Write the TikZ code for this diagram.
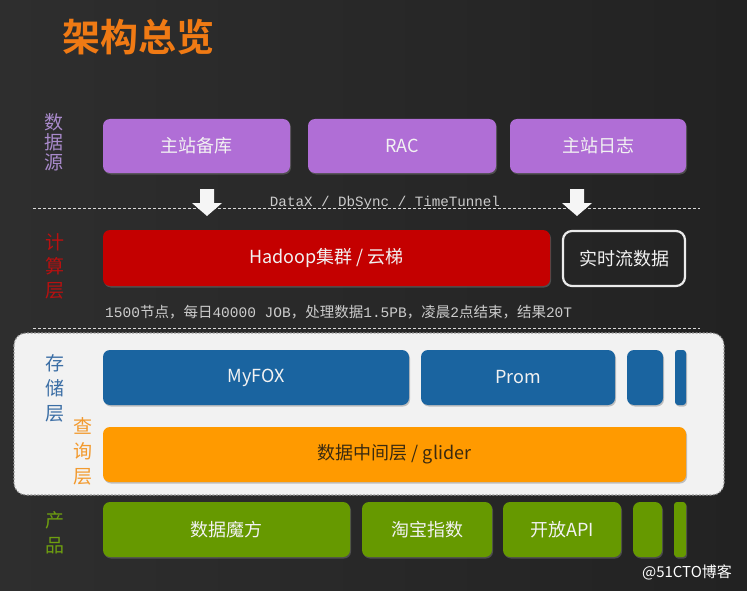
\documentclass[tikz,border=0pt]{standalone}
\usepackage{fontspec}
\setmainfont{Noto Sans CJK SC}
\newfontfamily\cjkbold{Noto Sans CJK SC Bold}
\newfontfamily\monofont{Liberation Mono}
\usetikzlibrary{shadows}
\definecolor{bgl}{HTML}{2E2E2E}
\definecolor{bgm}{HTML}{424242}
\definecolor{bgr}{HTML}{222222}
\definecolor{titleor}{HTML}{F07A14}
\definecolor{purp}{HTML}{B06ED6}
\definecolor{purplab}{HTML}{A98ACB}
\definecolor{redbox}{HTML}{C40000}
\definecolor{redlab}{HTML}{B81010}
\definecolor{bluebox}{HTML}{1A64A0}
\definecolor{bluelab}{HTML}{3B6EA5}
\definecolor{orbox}{HTML}{FF9A00}
\definecolor{orlab}{HTML}{F29A2E}
\definecolor{ortext}{HTML}{3A2A10}
\definecolor{grbox}{HTML}{669900}
\definecolor{grlab}{HTML}{6E9E10}
\definecolor{panel}{HTML}{F2F2F2}
\definecolor{boxtext}{HTML}{F2F2F2}
\begin{document}
\begin{tikzpicture}[x=1pt,y=-1pt,
  box/.style={rounded corners=7pt, inner sep=0pt, text=boxtext,
    font=\fontsize{18}{18}\selectfont,
    drop shadow={shadow xshift=1pt, shadow yshift=-1.5pt, opacity=0.45}},
  pbox/.style={box, fill=purp, minimum height=54pt},
  bbox/.style={box, fill=bluebox, minimum height=55pt},
  gbox/.style={box, fill=grbox, minimum height=55pt},
  vlab/.style={align=center, inner sep=0pt, font=\fontsize{19}{#1}\selectfont},
  sep/.style={draw=white!85!black, line width=0.9pt, dash pattern=on 3pt off 2pt},
  blockarrow/.style={fill=white!96!black}
]
\useasboundingbox (0,0) rectangle (747,591);
\shade[left color=bgl, middle color=bgm, right color=bgr] (0,0) rectangle (747,591);
\shade[top color=black, bottom color=black, middle color=black, opacity=0] (0,0) rectangle (747,591);

% title
\node (title) [text=titleor, font=\cjkbold\fontsize{38}{38}\selectfont] at (138,37) {架构总览};

% layer labels
\node (l1) [vlab=20, text=purplab] at (54,142) {数\\据\\源};
\node (l2) [vlab=24, text=redlab] at (55,266) {计\\算\\层};

% data sources
\node (s1) [pbox, minimum width=187pt] at (196.5,146) {主站备库};
\node (s2) [pbox, minimum width=188pt] at (402,146) {RAC};
\node (s3) [pbox, minimum width=176pt] at (598,146) {主站日志};

% separator 1
\coordinate (d1a) at (33,208);
\coordinate (d1b) at (700,208);
\draw[sep] (d1a) -- (d1b);
\node (tools) [text=white!80!black, font=\monofont\fontsize{14.2}{14.2}\selectfont, anchor=base] at (385,206) {DataX / DbSync / TimeTunnel};

% block arrows
\fill[blockarrow] (200,189) -- (214,189) -- (214,203) -- (222,203) -- (207,216) -- (192,203) -- (200,203) -- cycle;
\fill[blockarrow] (570,189) -- (584,189) -- (584,203) -- (592,203) -- (577,216) -- (562,203) -- (570,203) -- cycle;

% compute
\node (hadoop) [box, fill=redbox, minimum width=447pt, minimum height=56pt] at (326.5,258) {Hadoop集群 / 云梯};
\node (stream) [rounded corners=9pt, draw=white!92!black, line width=2.2pt, minimum width=122pt, minimum height=55pt, text=boxtext, font=\fontsize{18}{18}\selectfont] at (624,258.5) {实时流数据};

\node (stats) [anchor=base west, inner sep=0pt, text=white!80!black, font=\fontsize{14.5}{14.5}\selectfont] at (105,317)
  {{\monofont 1500}节点，每日{\monofont 40000 JOB}，处理数据{\monofont 1.5PB}，凌晨{\monofont 2}点结束，结果{\monofont 20T}};

% separator 2
\coordinate (d2a) at (33,328);
\coordinate (d2b) at (700,328);
\draw[sep] (d2a) -- (d2b);

% storage / query panel
\draw[fill=panel, draw=black!40, line width=1.1pt, dash pattern=on 2pt off 1.5pt, rounded corners=12pt] (14,333) rectangle (724,495);
\node (l3) [vlab=25, text=bluelab] at (55,388) {存\\储\\层};
\node (l4) [vlab=25, text=orlab] at (83,451) {查\\询\\层};

\node (myfox) [bbox, minimum width=306pt] at (256,377.5) {MyFOX};
\node (prom) [bbox, minimum width=194pt] at (518,377.5) {Prom};
\node (st3) [bbox, minimum width=36pt] at (645,377.5) {};
\node (st4) [bbox, minimum width=11pt, rounded corners=3pt] at (680.5,377.5) {};

\node (glider) [box, fill=orbox, text=ortext, minimum width=583pt, minimum height=55pt] at (394.5,454.5) {数据中间层 / glider};

% products
\node (l5) [vlab=25, text=grlab] at (55,533) {产\\品};
\node (p1) [gbox, minimum width=247pt] at (226.5,529.5) {数据魔方};
\node (p2) [gbox, minimum width=130pt] at (427,529.5) {淘宝指数};
\node (p3) [gbox, minimum width=118pt] at (562,529.5) {开放API};
\node (p4) [gbox, minimum width=29pt] at (647.5,529.5) {};
\node (p5) [gbox, minimum width=12pt, rounded corners=3pt] at (680,529.5) {};

% watermark
\node (wm) [text=white, font=\fontsize{15}{15}\selectfont] at (687,572) {@51CTO博客};
\end{tikzpicture}
\end{document}
